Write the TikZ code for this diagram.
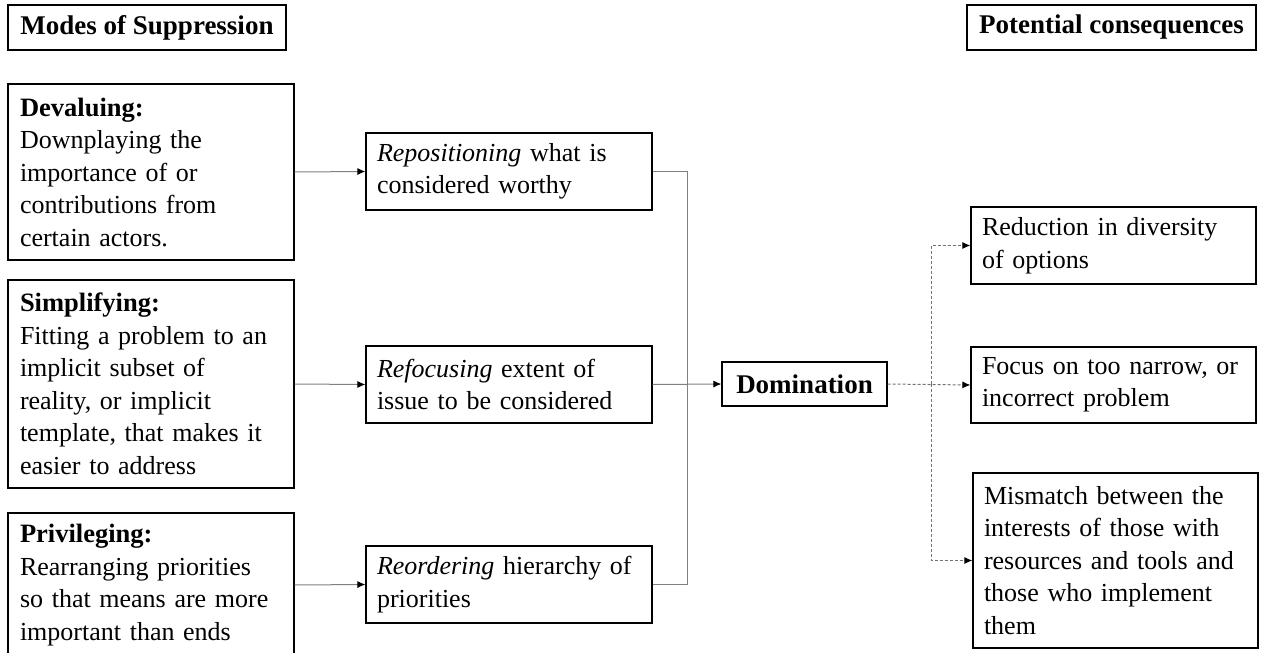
\documentclass[tikz,border=0pt]{standalone}
\usepackage{fontspec}
\setmainfont{Liberation Serif}
\usetikzlibrary{arrows.meta}
\newcommand{\bodyfnt}{\fontsize{26}{32.5}\selectfont}
\newcommand{\headfnt}{\fontsize{27}{32.5}\selectfont\bfseries}
\newcommand{\kw}[1]{{\fontsize{26.5}{32.5}\selectfont\bfseries #1}}
\tikzset{
  bx/.style={draw=black, line width=1.2pt, align=left, inner xsep=12pt, inner ysep=0pt, font=\bodyfnt},
  hd/.style={draw=black, line width=1.2pt, align=center, inner xsep=0pt, inner ysep=0pt, font=\headfnt},
  gline/.style={draw=black!50, line width=1pt},
  conn/.style={gline, -{Latex[length=8pt,width=7pt,color=black]}},
  dline/.style={draw=black!55, line width=1pt, dash pattern=on 3pt off 2pt},
  dconn/.style={dline, -{Latex[length=8pt,width=7pt,color=black]}}
}
\begin{document}
\begin{tikzpicture}[x=1pt,y=-1pt]
\useasboundingbox (0,0) rectangle (1261,653);
% headings
\node[hd, minimum width=278pt, minimum height=45pt] (modes) at (147,27.5) {Modes of Suppression};
\node[hd, minimum width=289pt, minimum height=45pt] (cons) at (1111.5,27.5) {Potential consequences};
% left boxes
\node[bx, text width=262pt, minimum height=176pt] (dev) at (151,172) {\kw{Devaluing:}\\Downplaying the\\importance of or\\contributions from\\certain actors.};
\node[bx, text width=262pt, minimum height=208pt] (simp) at (151,384) {\kw{Simplifying:}\\Fitting a problem to an\\implicit subset of\\reality, or implicit\\template, that makes it\\easier to address};
\node[bx, text width=262pt, minimum height=144pt] (priv) at (151,585) {\kw{Privileging:}\\Rearranging priorities\\so that means are more\\important than ends};
% middle boxes
\node[bx, text width=264pt, inner xsep=11pt, minimum height=77pt] (repo) at (509,171.5) {\textit{Repositioning} what is\\considered worthy};
\node[bx, text width=264pt, inner xsep=11pt, minimum height=77pt] (refo) at (509,384.5) {\textit{Refocusing} extent of\\issue to be considered};
\node[bx, text width=264pt, inner xsep=11pt, minimum height=77pt] (reor) at (509,584.5) {\textit{Reordering} hierarchy of\\priorities};
\node[hd, minimum width=165pt, minimum height=44pt] (dom) at (804.5,384) {Domination};
% right boxes
\node[bx, text width=263pt, inner xsep=11pt, minimum height=77pt] (red) at (1113.5,245.5) {Reduction in diversity\\of options};
\node[bx, text width=263pt, inner xsep=11pt, minimum height=76pt] (foc) at (1113.5,385) {Focus on too narrow, or\\incorrect problem};
\node[bx, text width=263pt, inner xsep=11pt, minimum height=175pt] (mis) at (1115.5,560.5) {Mismatch between the\\interests of those with\\resources and tools and\\those who implement\\them};
% connectors left
\draw[conn] (dev.east) -- (repo.west);
\draw[conn] (simp.east) -- (refo.west);
\draw[conn] (priv.east) -- (reor.west);
\coordinate (vtop) at (687,171.5);
\coordinate (vbot) at (687,584.5);
\draw[gline] (repo.east) -- (vtop) -- (vbot) -- (reor.east);
\draw[conn] (refo.east) -- (dom.west);
% connectors right
\coordinate (br) at (931,384);
\draw[dconn] (dom.east) -- (foc.west);
\draw[dconn] (br) |- (red.west);
\draw[dconn] (br) |- (mis.west);
\end{tikzpicture}
\end{document}
